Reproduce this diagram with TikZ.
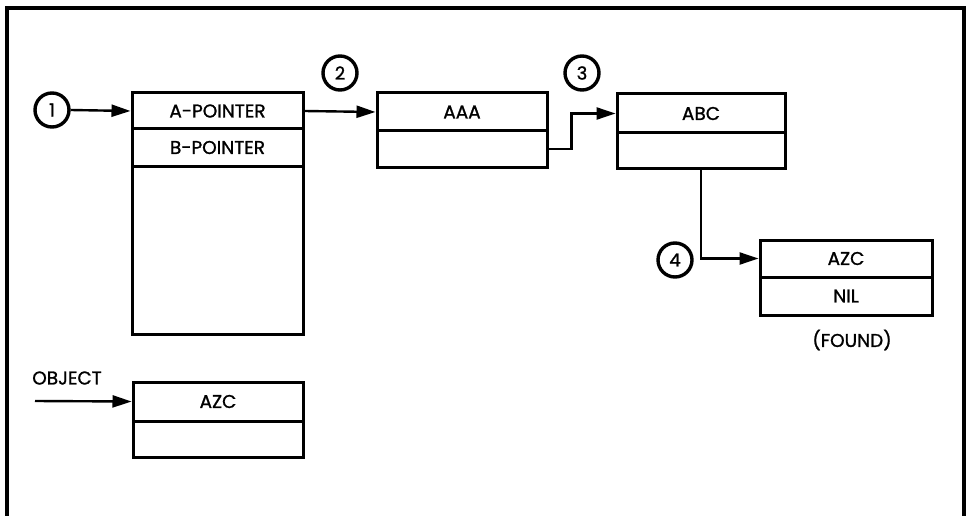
\documentclass[tikz,border=0pt]{standalone}
\usepackage{fontspec}
\setmainfont{Poppins}[FakeBold=1.2]
\usetikzlibrary{arrows.meta}
\begin{document}
\begin{tikzpicture}[x=1pt,y=-1pt,
  row/.style={draw, line width=3pt, inner sep=0pt, font=\fontsize{18.5}{21}\selectfont, minimum height=37pt},
  num/.style={draw, circle, line width=3.4pt, inner sep=0pt, minimum size=34pt, font=\fontsize{18}{21}\selectfont},
  lbl/.style={inner sep=0pt, font=\fontsize{18.5}{21}\selectfont},
  conn/.style={line width=2.4pt, -{Triangle[length=19pt,width=12pt]}},
  frame/.style={line width=3.2pt}]
\useasboundingbox (0,0) rectangle (966,516);
% frame
\draw[frame] (7,520) -- (7,8) -- (964,8) -- (964,520);
\draw[line width=4.5pt] (5.5,8) -- (965.5,8);
% box A
\node[row, minimum width=171pt, minimum height=36pt] (a1) at (217.5,111) {A-POINTER};
\node[row, minimum width=171pt, minimum height=37pt] (a2) at (217.5,147.5) {B-POINTER};
\node[row, minimum width=171pt, minimum height=168pt] (a3) at (217.5,250) {};
% AAA
\node[row, minimum width=170pt, minimum height=38pt] (aaa1) at (462,112) {AAA};
\node[row, minimum width=170pt, minimum height=36pt] (aaa2) at (462,149) {};
% ABC
\node[row, minimum width=168pt, minimum height=39pt] (abc1) at (701,113.5) {ABC};
\node[row, minimum width=168pt, minimum height=35pt] (abc2) at (701,150.5) {};
% AZC / NIL
\node[row, minimum width=172pt, minimum height=37pt] (azc1) at (846,258.5) {AZC};
\node[row, minimum width=172pt, minimum height=38pt] (azc2) at (846,296) {NIL};
\node[lbl] (found) at (852,340) {(FOUND)};
% object
\node[row, minimum width=170pt, minimum height=39pt] (obj1) at (218,401.5) {AZC};
\node[row, minimum width=170pt, minimum height=36pt] (obj2) at (218,439) {};
\node[lbl] (objlbl) at (67,378) {OBJECT};
\coordinate (objstart) at (35,401);
% circles
\node[num] (c1) at (52,110) {1};
\node[num] (c2) at (340,73) {2};
\node[num] (c3) at (582,73) {3};
\node[num] (c4) at (675,260) {4};
% connectors
\draw[conn] (c1.east) -- (a1.west);
\draw[conn] (a1.east) -- (aaa1.west);
\draw[conn] (aaa2.east) -- ++(23,0) |- (abc1.west);
\draw[conn] (abc2.south) |- (azc1.west);
\draw[conn] (objstart) -- (obj1.west);
\end{tikzpicture}
\end{document}
